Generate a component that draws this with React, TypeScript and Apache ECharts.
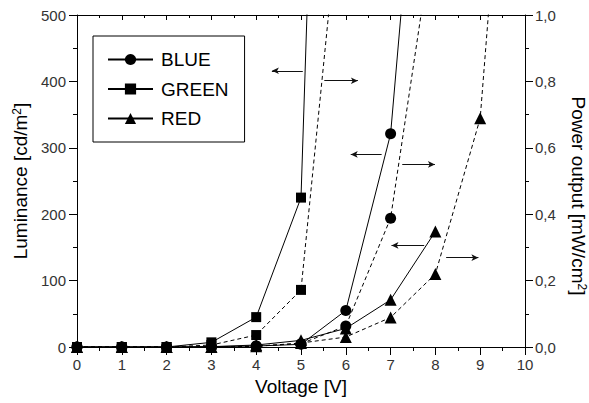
import React, { useEffect, useRef } from "react";
import * as echarts from "echarts";

// Drive voltage [V]
const voltages = [0, 1, 2, 3, 4, 5, 6, 7, 8, 9, 10];

// Luminance [cd/m²] per voltage step (solid lines, left axis)
const blueLuminance = [0, 0, 0, 0.5, 1.5, 4, 55, 321, 1100];
const greenLuminance = [0, 0, 0, 7, 45, 225, 2300];
const redLuminance = [0, 0, 0, 0.5, 3, 10, 28, 71, 174];

// Power output [mW/cm²] per voltage step (dashed lines, right axis)
const bluePower = [0, 0, 0, 0, 0.003, 0.01, 0.063, 0.388, 1.29];
const greenPower = [0, 0, 0, 0.006, 0.036, 0.172, 1.52];
const redPower = [0, 0, 0, 0, 0.002, 0.012, 0.03, 0.089, 0.22, 0.689, 2.4];

// Arrows telling which axis a curve belongs to: [fromV, toV, level]
const blueArrows = { toLeft: [6.8, 6.11, 290], toRight: [7.26, 7.99, 0.55] };
const greenArrows = { toLeft: [5.04, 4.35, 416], toRight: [5.52, 6.27, 0.802] };
const redArrows = { toLeft: [7.75, 7.02, 153], toRight: [8.24, 8.96, 0.269] };

const FONT = "'Liberation Sans', Arial, sans-serif";

const pairs = (values: number[]) => values.map((v, i) => [voltages[i], v]);

const arrow = (a: number[]) => ({
  silent: true,
  symbolSize: [5, 7],
  label: { show: false },
  lineStyle: { color: "#111", width: 1, type: "solid" },
  emphasis: { disabled: true },
  data: [[{ coord: [a[0], a[2]], symbol: "none" }, { coord: [a[1], a[2]], symbol: "arrow" }]],
});

const markerSize = (symbol: string) => (symbol === "triangle" ? 12 : symbol === "rect" ? 10 : 11);

const solid = (name: string, symbol: string, values: number[], arr: number[]) => ({
  name,
  type: "line",
  xAxisIndex: 0,
  yAxisIndex: 0,
  symbol,
  symbolSize: markerSize(symbol),
  itemStyle: { color: "#000" },
  lineStyle: { color: "#000", width: 1, type: "solid" },
  data: pairs(values),
  markLine: arrow(arr),
  z: 3,
});

const dashed = (name: string, symbol: string, values: number[], arr: number[]) => ({
  name,
  type: "line",
  xAxisIndex: 0,
  yAxisIndex: 1,
  symbol,
  symbolSize: markerSize(symbol),
  itemStyle: { color: "#000" },
  lineStyle: { color: "#000", width: 1, type: [4, 3] },
  data: pairs(values),
  markLine: arrow(arr),
  z: 2,
});

const tickLabel = { fontFamily: FONT, fontSize: 15, color: "#333" };
const titleStyle = {
  fontFamily: FONT,
  fontSize: 19,
  color: "#000",
  rich: {
    a: { fontFamily: FONT, fontSize: 19, color: "#000" },
    sup: { fontFamily: FONT, fontSize: 12, color: "#000", verticalAlign: "top" },
  },
};

const axisLine = { show: true, onZero: false, lineStyle: { color: "#000", width: 1 } };

export default function App() {
  const ref = useRef<HTMLDivElement>(null);

  useEffect(() => {
    if (!ref.current) return;
    const chart = echarts.init(ref.current, null, { renderer: "svg" });
    chart.setOption({
      animation: false,
      backgroundColor: "#fff",
      grid: {
        left: 77,
        right: 64,
        top: 15,
        bottom: 56,
        containLabel: false,
        outerBoundsMode: "none",
      },
      legend: {
        data: ["BLUE", "GREEN", "RED"],
        orient: "vertical",
        left: 93,
        top: 36,
        padding: [14, 16, 14, 14],
        itemWidth: 45,
        itemHeight: 14,
        itemGap: 10.5,
        borderColor: "#000",
        borderWidth: 1,
        backgroundColor: "#fff",
        textStyle: { fontFamily: FONT, fontSize: 19, color: "#000", padding: [0, 0, 0, 3] },
        selectedMode: false,
      },
      xAxis: [
        {
          type: "value",
          position: "bottom",
          min: 0,
          max: 10,
          interval: 1,
          name: "Voltage [V]",
          nameLocation: "middle",
          nameGap: 20,
          nameTextStyle: titleStyle,
          axisLine,
          axisTick: { show: true, inside: false, length: 8, lineStyle: { color: "#000" } },
          minorTick: { show: true, splitNumber: 2, length: 4, lineStyle: { color: "#000" } },
          axisLabel: { ...tickLabel, margin: 10 },
          splitLine: { show: false },
        },
        {
          type: "value",
          position: "top",
          min: 0,
          max: 10,
          interval: 1,
          axisLine,
          axisTick: { show: true, inside: true, length: 5, lineStyle: { color: "#000" } },
          minorTick: { show: true, splitNumber: 2, length: 3, lineStyle: { color: "#000" } },
          axisLabel: { show: false },
          splitLine: { show: false },
        },
      ],
      yAxis: [
        {
          type: "value",
          position: "left",
          min: 0,
          max: 500,
          interval: 100,
          name: "{a|Luminance [cd/m}{sup|2}{a|]}",
          nameLocation: "middle",
          nameGap: 47,
          nameTextStyle: titleStyle,
          axisLine,
          axisTick: { show: true, inside: false, length: 8, lineStyle: { color: "#000" } },
          minorTick: { show: true, splitNumber: 2, length: 4, lineStyle: { color: "#000" } },
          axisLabel: { ...tickLabel, margin: 11 },
          splitLine: { show: false },
        },
        {
          type: "value",
          position: "right",
          min: 0,
          max: 1,
          interval: 0.2,
          name: "{a|Power output [mW/cm}{sup|2}{a|]}",
          nameLocation: "middle",
          nameRotate: -90,
          nameGap: 44,
          nameTextStyle: { ...titleStyle, padding: [0, 0, 0, 30] },
          axisLine,
          axisTick: { show: true, inside: false, length: 8, lineStyle: { color: "#000" } },
          minorTick: { show: true, splitNumber: 2, length: 4, lineStyle: { color: "#000" } },
          axisLabel: {
            ...tickLabel,
            margin: 10,
            formatter: (v: number) => v.toFixed(1).replace(".", ","),
          },
          splitLine: { show: false },
        },
      ],
      series: [
        solid("BLUE", "circle", blueLuminance, blueArrows.toLeft),
        solid("GREEN", "rect", greenLuminance, greenArrows.toLeft),
        solid("RED", "triangle", redLuminance, redArrows.toLeft),
        dashed("BLUE power", "circle", bluePower, blueArrows.toRight),
        dashed("GREEN power", "rect", greenPower, greenArrows.toRight),
        dashed("RED power", "triangle", redPower, redArrows.toRight),
      ],
    });
    return () => chart.dispose();
  }, []);

  return (
    <div
      ref={ref}
      style={{ position: "fixed", left: 0, top: 0, width: 589, height: 403, background: "#fff" }}
    />
  );
}
